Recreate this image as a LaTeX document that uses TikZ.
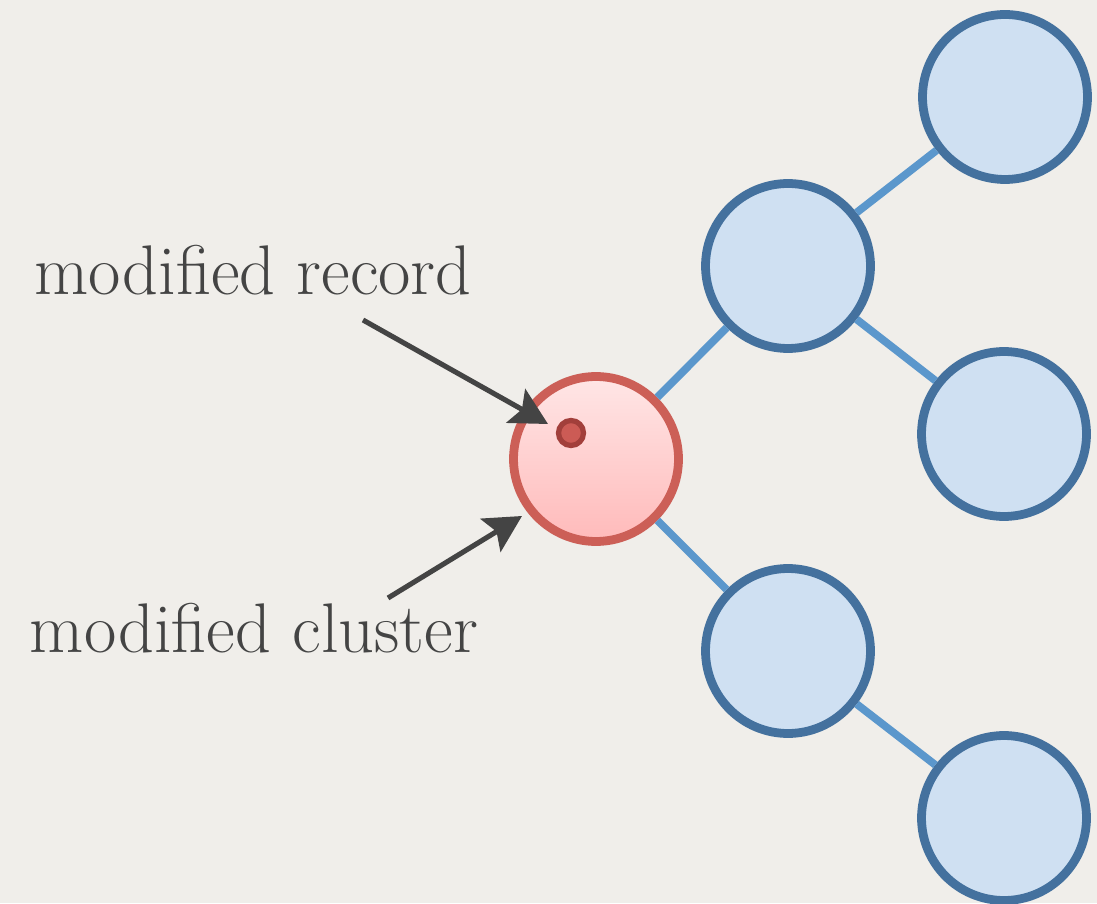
\documentclass[tikz,border=0pt]{standalone}
\usetikzlibrary{arrows.meta,shadows}

\definecolor{paper}{HTML}{F0EEEA}
\definecolor{treeline}{HTML}{5B97CC}
\definecolor{treedraw}{HTML}{44719E}
\definecolor{treefill}{HTML}{CFE0F2}
\definecolor{hotdraw}{HTML}{CC5F57}
\definecolor{hottop}{HTML}{FFE6E6}
\definecolor{hotbottom}{HTML}{FFBABA}
\definecolor{dotdraw}{HTML}{A23F3B}
\definecolor{dotfill}{HTML}{CC5B55}
\definecolor{ink}{HTML}{444444}

\tikzset{
  cluster/.style={circle, minimum size=3.3cm, line width=5pt,
    draw=treedraw, fill=treefill,
    drop shadow={opacity=0.15, shadow xshift=0pt, shadow yshift=-2pt}},
  hot/.style={cluster, draw=hotdraw, top color=hottop, bottom color=hotbottom},
  label/.style={text=ink, font=\fontsize{40}{46}\selectfont},
  pointer/.style={draw=ink, line width=2.9pt,
    -{Stealth[length=21pt,width=22pt,inset=4pt]}}
}

\begin{document}
\begin{tikzpicture}[x=0.02cm, y=0.02cm]
      \fill[paper] (0,0) rectangle (1097,903);
      \useasboundingbox (0,0) rectangle (1097,903);
      % the tree
      \draw
        (596,444) node[hot] (0){}
        (788,637) node[cluster] (1){}
        (1005,806) node[cluster] (2){}
        (1004,469) node[cluster] (3){}
        (788,252) node[cluster] (4){}
        (1004,85) node[cluster] (5){};
      \begin{scope}[treeline, line width=4.4pt]
        \draw (0) to (1);
        \draw (0) to (4);
        \draw (1) to (2);
        \draw (1) to (3);
        \draw (4) to (5);
      \end{scope}
      % record inside the modified cluster
      \node[circle, minimum size=0.5cm, inner sep=0pt, line width=3pt,
        draw=dotdraw, fill=dotfill] (r) at (571,470) {};
      % labels and pointers
      \node[label] (rec) at (253,633) {modified record};
      \node[label] (clu) at (254,275) {modified cluster};
      \coordinate (recfrom) at (363,583);
      \coordinate (recto) at (548,479);
      \coordinate (clufrom) at (388,305);
      \coordinate (cluto) at (522,387);
      \draw[pointer] (recfrom) -- (recto);
      \draw[pointer] (clufrom) -- (cluto);
    \end{tikzpicture}
\end{document}
